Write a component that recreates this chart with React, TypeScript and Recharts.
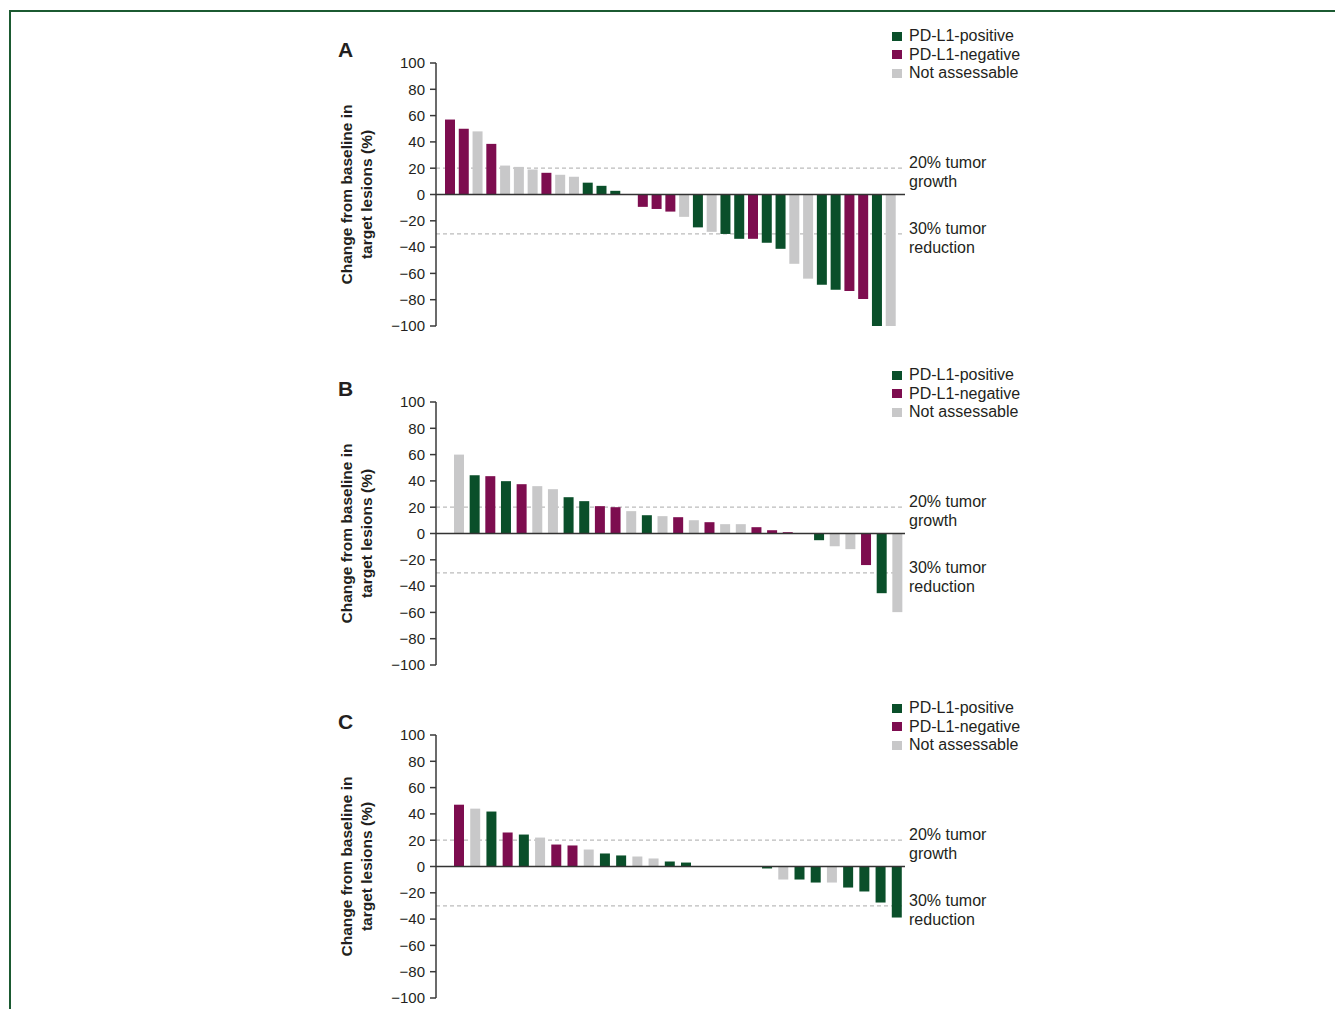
import React from "react";
import { BarChart, Bar, XAxis, YAxis, Cell, ReferenceLine } from "recharts";

// status codes: P = PD-L1-positive, N = PD-L1-negative, X = not assessable
const statusNames: Record<string, string> = {
  P: "PD-L1-positive",
  N: "PD-L1-negative",
  X: "Not assessable",
};
const statusOrder = ["P", "N", "X"];
const COLORS: Record<string, string> = { P: "#0a4f2a", N: "#7d0d4f", X: "#c8c8c9" };

const yTicks = [100, 80, 60, 40, 20, 0, -20, -40, -60, -80, -100];

// panel A
const valuesA = [57, 50, 48, 38.5, 22, 21, 19, 16.5, 15, 13.5, 9, 6.6, 2.8, 0, -9.4, -11, -13, -17, -25, -28.4, -30, -33.7, -33.7, -36.7, -41.3, -52.7, -64, -68.7, -72.5, -73.3, -79.4, -100, -100];
const statusA = ["N", "N", "X", "N", "X", "X", "X", "N", "X", "X", "P", "P", "P", "X", "N", "N", "N", "X", "P", "X", "P", "P", "N", "P", "P", "X", "X", "P", "P", "N", "N", "P", "X"];

// panel B
const valuesB = [60, 44.3, 43.6, 39.8, 37.5, 36, 33.7, 27.6, 24.6, 20.8, 20, 17, 13.9, 13.2, 12.4, 10.1, 8.6, 7.1, 7.1, 4.8, 2.5, 1, 0, -5.1, -9.7, -11.9, -24, -45.4, -59.8];
const statusB = ["X", "P", "N", "P", "N", "X", "X", "P", "P", "N", "N", "X", "P", "X", "N", "X", "N", "X", "X", "N", "N", "N", "X", "P", "X", "X", "N", "P", "X"];

// panel C
const valuesC = [47, 44, 41.8, 25.9, 24.3, 22, 16.7, 16, 12.9, 9.9, 8.4, 7.6, 6.1, 3.8, 3, 0, 0, 0, 0, -1.5, -9.9, -9.9, -12.2, -12.2, -16, -19, -27.4, -38.8];
const statusC = ["N", "X", "P", "N", "P", "X", "N", "N", "X", "P", "P", "X", "X", "P", "P", "X", "X", "X", "X", "P", "X", "P", "P", "X", "P", "P", "P", "P"];

const growthNote = ["20% tumor", "growth"];
const reductionNote = ["30% tumor", "reduction"];

const FONT = '"Liberation Sans", Arial, Helvetica, sans-serif';
const TEXT = "#231f20";

function fmtTick(v: number) {
  return v < 0 ? "\u2212" + Math.abs(v) : String(v);
}

function AxisTitle({ viewBox, letter }: any) {
  const cy = viewBox.y + viewBox.height / 2;
  const x1 = viewBox.x - 30;
  const x2 = viewBox.x - 10;
  return (
    <g fill={TEXT} fontFamily={FONT}>
      <text x={viewBox.x - 38} y={viewBox.y - 6} fontSize={21} fontWeight="bold">
        {letter}
      </text>
      <text x={x1} y={cy} transform={`rotate(-90 ${x1} ${cy})`} textAnchor="middle" dominantBaseline="central" fontSize={15.5} fontWeight="bold">
        Change from baseline in
      </text>
      <text x={x2} y={cy} transform={`rotate(-90 ${x2} ${cy})`} textAnchor="middle" dominantBaseline="central" fontSize={15.5} fontWeight="bold">
        target lesions (%)
      </text>
    </g>
  );
}

function LineNote({ viewBox, lines }: any) {
  const x = viewBox.x + viewBox.width + 4;
  return (
    <g fill={TEXT} fontFamily={FONT} fontSize={16}>
      <text x={x} y={viewBox.y - 5.5} dominantBaseline="central">{lines[0]}</text>
      <text x={x} y={viewBox.y + 13.5} dominantBaseline="central">{lines[1]}</text>
    </g>
  );
}

function StatusLegend({ top }: { top: number }) {
  return (
    <div style={{ position: "absolute", left: 892, top, fontFamily: FONT, fontSize: 16, color: TEXT }}>
      {statusOrder.map((k) => (
        <div key={k} style={{ display: "flex", alignItems: "center", height: 18.5, whiteSpace: "nowrap" }}>
          <span style={{ display: "inline-block", width: 10, height: 9, background: COLORS[k], marginRight: 7 }} />
          {statusNames[k]}
        </div>
      ))}
    </div>
  );
}

function Panel({ letter, top, values, status, padLeft, padRight }: {
  letter: string;
  top: number;
  values: number[];
  status: string[];
  padLeft: number;
  padRight: number;
}) {
  const rows = values.map((v, i) => ({ id: i + 1, value: v, status: status[i] }));
  return (
    <div style={{ position: "absolute", left: 0, top, width: 1060, height: 313 }}>
      <BarChart
        width={1060}
        height={313}
        data={rows}
        margin={{ top: 40, right: 155, bottom: 10, left: 376 }}
        barSize={10}
        style={{ fontFamily: FONT }}
      >
        <XAxis dataKey="id" hide padding={{ left: padLeft, right: padRight }} />
        <YAxis
          width={60}
          domain={[-100, 100]}
          ticks={yTicks}
          interval={0}
          tickFormatter={fmtTick}
          tickSize={6}
          tickMargin={5}
          tick={{ fontSize: 15, fill: TEXT }}
          axisLine={{ stroke: "#3a3a3a", strokeWidth: 1.5 }}
          tickLine={{ stroke: "#3a3a3a", strokeWidth: 1.5 }}
          label={<AxisTitle letter={letter} />}
        />
        <ReferenceLine y={20} zIndex={100} stroke="#bcbcbc" strokeWidth={1.3} strokeDasharray="4 3" label={<LineNote lines={growthNote} />} />
        <ReferenceLine y={-30} zIndex={100} stroke="#bcbcbc" strokeWidth={1.3} strokeDasharray="4 3" label={<LineNote lines={reductionNote} />} />
        <Bar dataKey="value" isAnimationActive={false}>
          {rows.map((r) => (
            <Cell key={r.id} fill={COLORS[r.status]} />
          ))}
        </Bar>
        <ReferenceLine y={0} stroke="#333333" strokeWidth={1.5} />
      </BarChart>
      <StatusLegend top={4} />
    </div>
  );
}

export default function App() {
  return (
    <div style={{ position: "fixed", left: 0, top: 0, width: 1335, height: 1009, overflow: "hidden", background: "#fff" }}>
      <div
        style={{
          position: "absolute",
          left: 9,
          top: 10,
          width: 1400,
          height: 1100,
          borderTop: "2.5px solid #1b5a31",
          borderLeft: "2.5px solid #1b5a31",
        }}
      />
      <Panel letter="A" top={23} values={valuesA} status={statusA} padLeft={7} padRight={7.5} />
      <Panel letter="B" top={362} values={valuesB} status={statusB} padLeft={15} padRight={0} />
      <Panel letter="C" top={695} values={valuesC} status={statusC} padLeft={15} padRight={0} />
    </div>
  );
}
